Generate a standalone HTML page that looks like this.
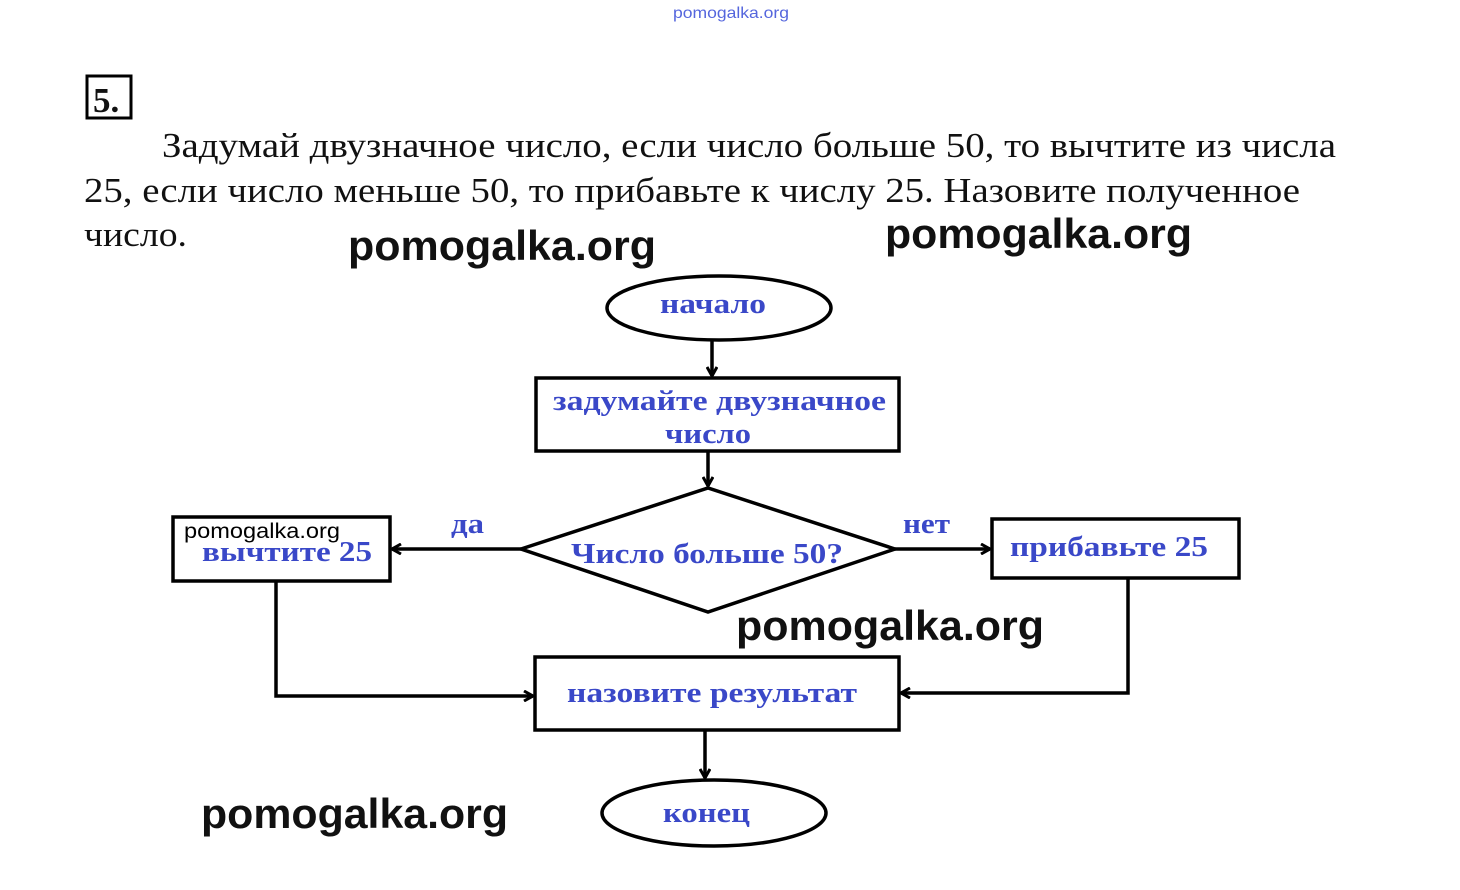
<!DOCTYPE html>
<html><head><meta charset="utf-8"><style>
html,body{margin:0;padding:0;background:#fff;width:1460px;height:890px;overflow:hidden}
svg{display:block}
.t{font-family:"Liberation Serif","DejaVu Serif",serif;font-size:35px;fill:#111}
.b{font-family:"Liberation Serif","DejaVu Serif",serif;font-weight:bold;font-size:28px;fill:#3a48c8}
.w{font-family:"Liberation Sans","DejaVu Sans",sans-serif;font-weight:bold;font-size:42px;fill:#111}
</style></head><body>
<svg width="1460" height="890" viewBox="0 0 1460 890" xmlns="http://www.w3.org/2000/svg">
<defs><marker id="a" markerWidth="12" markerHeight="12" refX="10" refY="6" orient="auto" markerUnits="userSpaceOnUse"><path d="M1,1 L10,6 L1,11" fill="none" stroke="#000" stroke-width="3"/></marker></defs>
<text x="673" y="18" textLength="116" lengthAdjust="spacingAndGlyphs" font-family="Liberation Sans,sans-serif" font-size="16" fill="#5566dd">pomogalka.org</text>
<rect x="87" y="76" width="44" height="42" fill="none" stroke="#000" stroke-width="3"/>
<text x="93" y="112" class="t" font-weight="bold" font-size="34">5.</text>
<text x="162" y="157" class="t" textLength="1174" lengthAdjust="spacingAndGlyphs">Задумай двузначное число, если число больше 50, то вычтите из числа</text>
<text x="84" y="202" class="t" textLength="1216" lengthAdjust="spacingAndGlyphs">25, если число меньше 50, то прибавьте к числу 25. Назовите полученное</text>
<text x="84" y="246" class="t" textLength="103" lengthAdjust="spacingAndGlyphs">число.</text>
<g fill="none" stroke="#000" stroke-width="3.5">
<ellipse cx="719" cy="308" rx="112" ry="32"/>
<rect x="536" y="378" width="363" height="73"/>
<polygon points="521,549 708,488 895,549 708,612"/>
<rect x="173" y="517" width="217" height="64"/>
<rect x="992" y="519" width="247" height="59"/>
<rect x="535" y="657" width="364" height="73"/>
<ellipse cx="714" cy="813" rx="112" ry="33"/>
<line x1="712" y1="340" x2="712" y2="376" marker-end="url(#a)"/>
<line x1="708" y1="451" x2="708" y2="486" marker-end="url(#a)"/>
<line x1="521" y1="549" x2="392" y2="549" marker-end="url(#a)"/>
<line x1="895" y1="549" x2="990" y2="549" marker-end="url(#a)"/>
<polyline points="276,581 276,696 533,696" marker-end="url(#a)"/>
<polyline points="1128,578 1128,693 901,693" marker-end="url(#a)"/>
<line x1="705" y1="730" x2="705" y2="778" marker-end="url(#a)"/>
</g>
<text x="660" y="313" class="b" textLength="106" lengthAdjust="spacingAndGlyphs">начало</text>
<text x="553" y="410" class="b" textLength="333" lengthAdjust="spacingAndGlyphs">задумайте двузначное</text>
<text x="665" y="443" class="b" textLength="86" lengthAdjust="spacingAndGlyphs">число</text>
<text x="571" y="563" class="b" font-size="30" textLength="272" lengthAdjust="spacingAndGlyphs">Число больше 50?</text>
<text x="202" y="561" class="b" font-size="30" textLength="170" lengthAdjust="spacingAndGlyphs">вычтите 25</text>
<text x="1010" y="556" class="b" textLength="198" lengthAdjust="spacingAndGlyphs">прибавьте 25</text>
<text x="567" y="702" class="b" textLength="290" lengthAdjust="spacingAndGlyphs">назовите результат</text>
<text x="663" y="822" class="b" textLength="87" lengthAdjust="spacingAndGlyphs">конец</text>
<text x="451" y="533" class="b" textLength="33" lengthAdjust="spacingAndGlyphs">да</text>
<text x="903" y="533" class="b" textLength="47" lengthAdjust="spacingAndGlyphs">нет</text>
<text x="184" y="538" font-family="Liberation Sans,sans-serif" font-size="21" fill="#000" textLength="156" lengthAdjust="spacingAndGlyphs">pomogalka.org</text>
<text x="348" y="260" class="w" textLength="308" lengthAdjust="spacingAndGlyphs">pomogalka.org</text>
<text x="885" y="248" class="w" textLength="307" lengthAdjust="spacingAndGlyphs">pomogalka.org</text>
<text x="736" y="640" class="w" textLength="308" lengthAdjust="spacingAndGlyphs">pomogalka.org</text>
<text x="201" y="828" class="w" textLength="307" lengthAdjust="spacingAndGlyphs">pomogalka.org</text>
</svg>
</body></html>
